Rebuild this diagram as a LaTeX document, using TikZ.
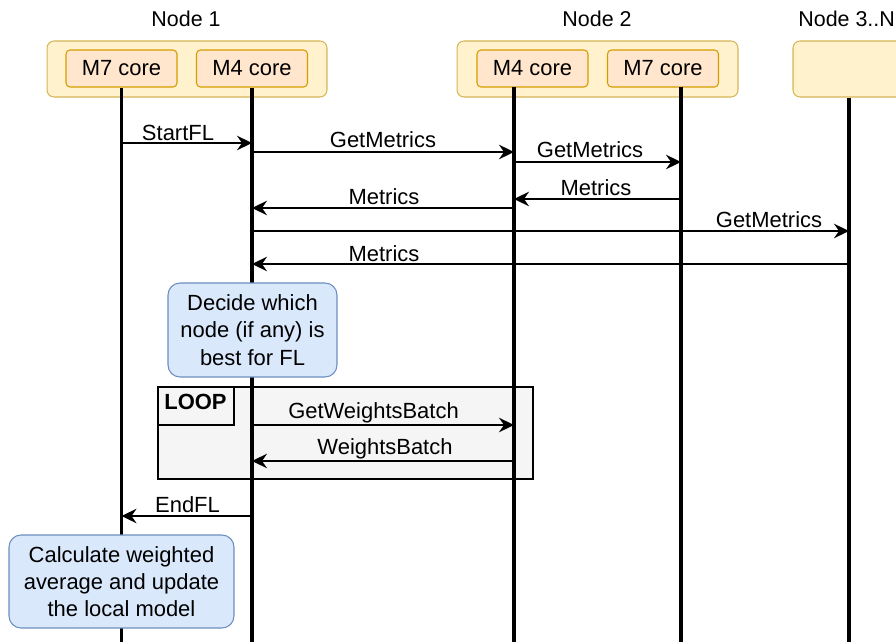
\documentclass[tikz,border=0pt]{standalone}
\usepackage{fontspec}
\setmainfont{Liberation Sans}
\usetikzlibrary{arrows.meta,positioning}
\definecolor{hostfill}{HTML}{FFF2CC}
\definecolor{hostline}{HTML}{D6B656}
\definecolor{corefill}{HTML}{FFE6CC}
\definecolor{coreline}{HTML}{D79B00}
\definecolor{notefill}{HTML}{DAE8FC}
\definecolor{noteline}{HTML}{6C8EBF}
\definecolor{loopfill}{HTML}{F5F5F5}
\tikzset{
	hostbox/.style={draw=hostline, fill=hostfill, line width=0.6pt, rounded corners=1.4mm,
			minimum height=1.12cm, inner sep=0pt},
	corebox/.style={draw=coreline, fill=corefill, line width=0.6pt, rounded corners=0.8mm,
			minimum width=2.22cm, minimum height=0.74cm, inner sep=0pt,
			font=\fontsize{12.5}{15}\selectfont},
	notebox/.style={draw=noteline, fill=notefill, line width=0.6pt, rounded corners=2.4mm,
			align=center, inner sep=0pt, font=\fontsize{12.5}{15.5}\selectfont},
	hosttitle/.style={anchor=base, inner sep=0pt, font=\fontsize{12.2}{14}\selectfont},
	lbl/.style={anchor=base, inner sep=0pt, font=\fontsize{12.5}{15}\selectfont},
	lifeline/.style={line width=2pt},
	msg/.style={line width=1.1pt, -{Stealth[length=3mm, width=2.9mm, inset=1mm]}}
}

\begin{document}
\begin{tikzpicture}[x=0.02cm, y=-0.02cm]
	\clip (0,0) rectangle (896,642);
	% hosts and their cores
	\node[hostbox, minimum width=5.6cm] (node1) at (187,69) {};
	\node[hostbox, minimum width=5.62cm] (node2) at (597.5,69) {};
	\node[hostbox, minimum width=2.24cm] (node3) at (849,69) {};
	\node[hosttitle] (title1) at (186,27) {Node 1};
	\node[hosttitle] (title2) at (597,27) {Node 2};
	\node[hosttitle, anchor=base west] (title3) at (798,27) {Node 3..N};
	\node[corebox] (n1m7) at (121.5,68.5) {M7 core};
	\node[corebox] (n1m4) at (252,68.5) {M4 core};
	\node[corebox] (n2m4) at (532.5,68.5) {M4 core};
	\node[corebox] (n2m7) at (663,68.5) {M7 core};

	% loop frame
	\draw[fill=loopfill, line width=0.6pt] (158,387) rectangle (533,479);
	\draw[line width=0.6pt] (158,387) rectangle (234,425);
	\node[lbl, font=\fontsize{12.5}{15}\selectfont\bfseries] (looplbl) at (195.5,409) {LOOP};

	% lifelines
	\coordinate (l1) at (n1m7.south);
	\coordinate (l2) at (n1m4.south);
	\coordinate (l3) at (514,87);
	\coordinate (l4) at (681,87);
	\coordinate (l5) at (node3.south);
	\foreach \l in {l1,l2,l3,l4,l5}
	\draw[lifeline] (\l) -- (\l |- 0,642);

	% notes
	\node[notebox, minimum width=3.38cm, minimum height=1.88cm] (decide) at (252.5,330)
	{Decide which\\node (if any) is\\best for FL};
	\node[notebox, minimum width=4.5cm, minimum height=1.86cm] (calc) at (121.5,581.5)
	{Calculate weighted\\average and update\\the local model};

	% messages
	\draw[msg] (l1 |- 0,143) -- (l2 |- 0,143);
	\node[lbl] (startfl) at (178,140) {StartFL};
	\draw[msg] (l2 |- 0,152) -- (l3 |- 0,152);
	\node[lbl] (getm1) at (383,148) {GetMetrics};
	\draw[msg] (l3 |- 0,162) -- (l4 |- 0,162);
	\node[lbl] (getm2) at (590,157) {GetMetrics};
	\draw[msg] (l4 |- 0,199) -- (l3 |- 0,199);
	\node[lbl] (met2) at (596,195) {Metrics};
	\draw[msg] (l3 |- 0,208) -- (l2 |- 0,208);
	\node[lbl] (met1) at (384,204) {Metrics};
	\draw[msg] (l2 |- 0,231) -- (l5 |- 0,231);
	\node[lbl] (getm3) at (769,227) {GetMetrics};
	\draw[msg] (l5 |- 0,264) -- (l2 |- 0,264);
	\node[lbl] (met3) at (384,261) {Metrics};
	\draw[msg] (l2 |- 0,425) -- (l3 |- 0,425);
	\node[lbl] (getwb) at (373.5,418) {GetWeightsBatch};
	\draw[msg] (l3 |- 0,461) -- (l2 |- 0,461);
	\node[lbl] (wb) at (385,454) {WeightsBatch};
	\draw[msg] (l2 |- 0,516) -- (l1 |- 0,516);
	\node[lbl] (endfl) at (187.5,512.5) {EndFL};
\end{tikzpicture}
\end{document}
